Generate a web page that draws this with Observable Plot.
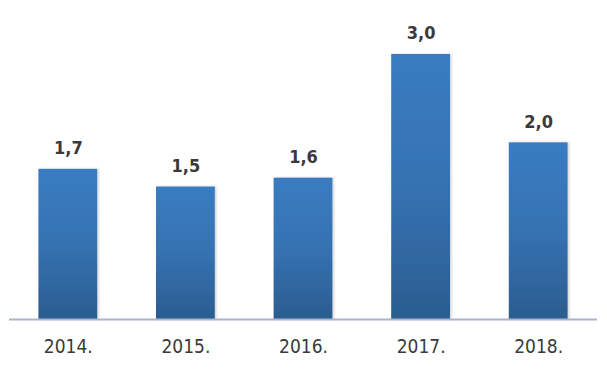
<!DOCTYPE html>
<html>
<head>
<meta charset="utf-8">
<script src="https://cdn.jsdelivr.net/npm/d3@7"></script>
<script src="https://cdn.jsdelivr.net/npm/@observablehq/plot@0.6"></script>
<style>
  html, body { margin: 0; padding: 0; background: #fff; }
  #chart svg { display: block; }
</style>
</head>
<body>
<div id="chart"></div>
<script>
const years = ["2014", "2015", "2016", "2017", "2018"];
const values = [1.7, 1.5, 1.6, 3.0, 2.0];
const valueLabels = ["1,7", "1,5", "1,6", "3,0", "2,0"];

const data = years.map((y, i) => ({year: y, value: values[i], label: valueLabels[i]}));

const font = "'DejaVu Sans Condensed', 'DejaVu Sans', sans-serif";

const chart = Plot.plot({
  width: 607,
  height: 380,
  marginLeft: 9,
  marginRight: 10,
  marginTop: 54,
  marginBottom: 61,
  style: {fontFamily: font, background: "#fff", color: "#404040"},
  x: {domain: years, paddingInner: 0.5, paddingOuter: 0.25, round: false, label: null},
  y: {domain: [0, 3.0], axis: null},
  marks: [
    Plot.barY(data, {x: "year", y: "value", fill: "url(#barGrad)"}),
    Plot.ruleY([0], {stroke: "#A9B6C9", strokeWidth: 2}),
    Plot.text(data, {x: "year", y: "value", text: "label", dy: -21, fontSize: 18, fill: "#3a3a3a", fontWeight: "bold"}),
    Plot.axisX({tickSize: 0, tickPadding: 20, fontSize: 19, tickFormat: d => d + ".", fill: "#3a3a3a", label: null})
  ]
});

const svg = d3.select(chart);
const defs = svg.insert("defs", ":first-child");
const grad = defs.append("linearGradient").attr("id", "barGrad")
  .attr("x1", 0).attr("y1", 0).attr("x2", 0).attr("y2", 1);
grad.append("stop").attr("offset", "0%").attr("stop-color", "#3A7CC1");
grad.append("stop").attr("offset", "50%").attr("stop-color", "#3572B2");
grad.append("stop").attr("offset", "100%").attr("stop-color", "#2B5D90");
const filt = defs.append("filter").attr("id", "shadow").attr("x", "-10%").attr("y", "-10%").attr("width", "130%").attr("height", "130%");
filt.append("feDropShadow").attr("dx", 1.5).attr("dy", 0).attr("stdDeviation", 1.2).attr("flood-color", "#000").attr("flood-opacity", 0.18);
svg.selectAll("g[fill='url(#barGrad)'] rect").attr("filter", "url(#shadow)");

document.getElementById("chart").appendChild(chart);
</script>
</body>
</html>
